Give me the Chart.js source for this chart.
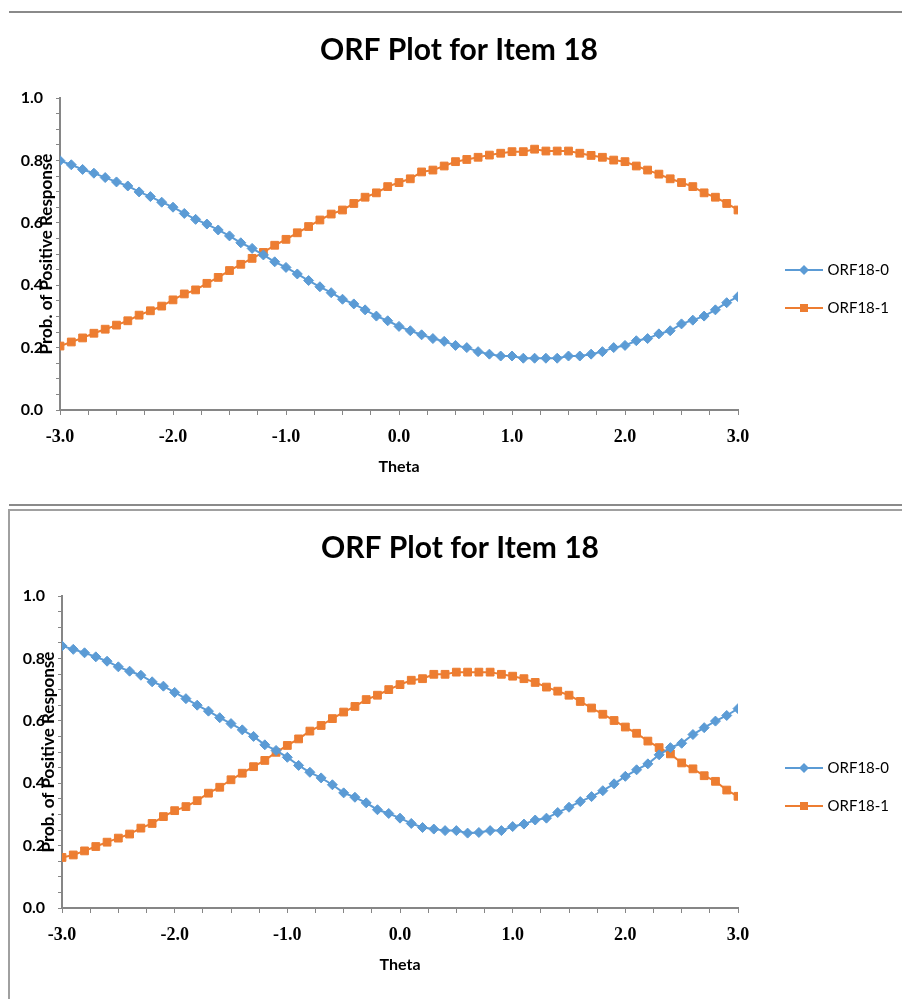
<!DOCTYPE html>
<html>
<head>
<meta charset="utf-8">
<title>ORF Plot for Item 18</title>
<script src="https://cdn.jsdelivr.net/npm/chart.js@4.4.0/dist/chart.umd.min.js"></script>
<style>
  body { margin: 0; background: #fff; width: 902px; height: 999px; overflow: hidden; position: relative; }
  canvas { position: absolute; }
  .rule { position: absolute; background: #8a8a8a; }
</style>
</head>
<body>
<div class="rule" style="left:9px; top:11px; width:893px; height:2px;"></div>
<div class="rule" style="left:9px; top:504px; width:893px; height:2px;"></div>
<div class="rule" style="left:9px; top:509px; width:893px; height:2px; background:#a0a0a0;"></div>
<div class="rule" style="left:8px; top:509px; width:2px; height:490px; background:#a0a0a0;"></div>
<canvas id="chartTop" width="886" height="482" style="left:16px; top:14px;"></canvas>
<canvas id="chartBottom" width="884" height="482" style="left:18px; top:512px;"></canvas>
<script>
// theta values (x categories)
const thetas = [
  -3.0, -2.9, -2.8, -2.7, -2.6, -2.5, -2.4, -2.3, -2.2, -2.1,
  -2.0, -1.9, -1.8, -1.7, -1.6, -1.5, -1.4, -1.3, -1.2, -1.1,
  -1.0, -0.9, -0.8, -0.7, -0.6, -0.5, -0.4, -0.3, -0.2, -0.1,
  0.0, 0.1, 0.2, 0.3, 0.4, 0.5, 0.6, 0.7, 0.8, 0.9,
  1.0, 1.1, 1.2, 1.3, 1.4, 1.5, 1.6, 1.7, 1.8, 1.9,
  2.0, 2.1, 2.2, 2.3, 2.4, 2.5, 2.6, 2.7, 2.8, 2.9,
  3.0
];

// upper chart
const orf0Top = [
  0.799, 0.786, 0.771, 0.759, 0.745, 0.731, 0.718, 0.699, 0.684, 0.666,
  0.650, 0.630, 0.611, 0.596, 0.577, 0.558, 0.536, 0.518, 0.497, 0.475,
  0.457, 0.436, 0.415, 0.395, 0.376, 0.355, 0.340, 0.321, 0.301, 0.286,
  0.268, 0.254, 0.241, 0.229, 0.220, 0.207, 0.200, 0.187, 0.179, 0.173,
  0.173, 0.166, 0.166, 0.166, 0.166, 0.173, 0.173, 0.179, 0.187, 0.200,
  0.207, 0.222, 0.229, 0.244, 0.254, 0.276, 0.288, 0.301, 0.321, 0.344,
  0.363
];
const orf1Top = [
  0.205, 0.218, 0.231, 0.246, 0.259, 0.272, 0.286, 0.304, 0.318, 0.333,
  0.353, 0.372, 0.385, 0.406, 0.425, 0.447, 0.467, 0.486, 0.505, 0.528,
  0.547, 0.568, 0.588, 0.609, 0.628, 0.641, 0.662, 0.682, 0.696, 0.716,
  0.729, 0.741, 0.763, 0.769, 0.782, 0.796, 0.803, 0.810, 0.817, 0.823,
  0.828, 0.828, 0.836, 0.830, 0.830, 0.830, 0.823, 0.816, 0.810, 0.801,
  0.796, 0.782, 0.769, 0.756, 0.741, 0.729, 0.716, 0.696, 0.682, 0.662,
  0.641
];

// lower chart
const orf0Bottom = [
  0.840, 0.829, 0.818, 0.805, 0.791, 0.773, 0.759, 0.746, 0.725, 0.711,
  0.691, 0.671, 0.650, 0.631, 0.610, 0.591, 0.571, 0.550, 0.523, 0.505,
  0.483, 0.457, 0.435, 0.417, 0.395, 0.369, 0.355, 0.337, 0.315, 0.303,
  0.288, 0.271, 0.258, 0.253, 0.248, 0.248, 0.240, 0.242, 0.248, 0.248,
  0.261, 0.269, 0.282, 0.288, 0.306, 0.323, 0.341, 0.357, 0.376, 0.398,
  0.422, 0.443, 0.462, 0.491, 0.514, 0.528, 0.556, 0.578, 0.599, 0.617,
  0.639
];
const orf1Bottom = [
  0.162, 0.170, 0.183, 0.197, 0.211, 0.224, 0.237, 0.256, 0.271, 0.293,
  0.312, 0.325, 0.344, 0.368, 0.387, 0.411, 0.432, 0.453, 0.473, 0.499,
  0.521, 0.542, 0.567, 0.585, 0.607, 0.628, 0.646, 0.668, 0.682, 0.700,
  0.716, 0.730, 0.735, 0.749, 0.749, 0.756, 0.756, 0.756, 0.756, 0.749,
  0.743, 0.735, 0.723, 0.708, 0.695, 0.682, 0.662, 0.641, 0.621, 0.601,
  0.580, 0.560, 0.535, 0.514, 0.494, 0.465, 0.446, 0.424, 0.406, 0.378,
  0.358
];

const seriesNames = ["ORF18-0", "ORF18-1"];
const chartTitle = "ORF Plot for Item 18";
const xTitle = "Theta";
const yTitle = "Prob. of Positive Response";

const BLUE = "#5b9bd5";
const ORANGE = "#ed7d31";
const AXIS = "#868686";

Chart.defaults.font.family = "Lato, 'Open Sans', sans-serif";
Chart.defaults.color = "#000";

// little "line with marker" pictures for the legend, like Excel
function legendMarker(color, shape) {
  const c = document.createElement("canvas");
  c.width = 38;
  c.height = 12;
  const g = c.getContext("2d");
  g.strokeStyle = color;
  g.fillStyle = color;
  g.lineWidth = 2;
  g.beginPath();
  g.moveTo(0, 6);
  g.lineTo(38, 6);
  g.stroke();
  g.beginPath();
  if (shape === "diamond") {
    g.moveTo(19, 1);
    g.lineTo(24, 6);
    g.lineTo(19, 11);
    g.lineTo(14, 6);
  } else {
    g.rect(15, 2, 8, 8);
  }
  g.closePath();
  g.fill();
  return c;
}
const markers = [legendMarker(BLUE, "diamond"), legendMarker(ORANGE, "square")];

// excel-ish layout tweaks: fixed legend box, rotated y title over the tick labels
const excelLook = {
  id: "excelLook",
  beforeLayout(chart) {
    const lg = chart.legend;
    if (lg && !lg._fixedWidth) {
      const fit = lg.fit;
      lg.fit = function () {
        fit.call(this);
        this.width = 164;
      };
      lg._fixedWidth = true;
    }
  },
  afterLayout(chart) {
    chart.legend.left += 27;
    chart.legend.top = 68;
  },
  afterDraw(chart) {
    const { ctx, chartArea } = chart;
    ctx.save();
    ctx.translate(chartArea.left - 13, (chartArea.top + chartArea.bottom) / 2);
    ctx.rotate(-Math.PI / 2);
    ctx.font = "bold 17px Lato";
    ctx.fillStyle = "#000";
    ctx.textAlign = "center";
    ctx.textBaseline = "middle";
    ctx.fillText(yTitle, 0, 0);
    ctx.restore();
  }
};

function points(values) {
  return thetas.map((t, i) => ({ x: t, y: values[i] }));
}

function makeChart(id, s0, s1) {
  return new Chart(document.getElementById(id), {
    type: "line",
    data: {
      datasets: [
        {
          label: seriesNames[0],
          data: points(s0),
          borderColor: BLUE,
          backgroundColor: BLUE,
          borderWidth: 2,
          pointStyle: "rectRot",
          pointRadius: 5,
          pointBorderWidth: 1,
          tension: 0
        },
        {
          label: seriesNames[1],
          data: points(s1),
          borderColor: ORANGE,
          backgroundColor: ORANGE,
          borderWidth: 2,
          pointStyle: "rect",
          pointRadius: 5.5,
          pointBorderWidth: 1,
          tension: 0
        }
      ]
    },
    options: {
      responsive: false,
      animation: false,
      devicePixelRatio: 1,
      layout: { padding: 0 },
      plugins: {
        title: {
          display: true,
          text: chartTitle,
          color: "#000",
          font: { size: 30, weight: "bold" },
          padding: { top: 18, bottom: 30 }
        },
        legend: {
          position: "right",
          labels: {
            usePointStyle: true,
            pointStyleWidth: 32,
            padding: 23,
            color: "#000",
            font: { size: 15 },
            generateLabels(chart) {
              const items = Chart.defaults.plugins.legend.labels.generateLabels(chart);
              items.forEach((it, i) => { it.pointStyle = markers[i]; });
              return items;
            }
          }
        },
        tooltip: { enabled: false }
      },
      scales: {
        x: {
          type: "linear",
          min: -3,
          max: 3,
          afterFit(scale) { scale.height = 86; },
          ticks: {
            stepSize: 0.25,
            autoSkip: false,
            maxRotation: 0,
            padding: 12,
            color: "#000",
            font: { family: "'Liberation Serif', serif", size: 18, weight: "bold" },
            callback(v) {
              if (Math.abs(v - Math.round(v)) > 1e-6) return "";
              const r = Math.round(v);
              return (r === 0 ? 0 : r).toFixed(1);
            }
          },
          grid: { drawOnChartArea: false, drawTicks: true, tickLength: 5, color: AXIS },
          border: { display: true, color: AXIS, width: 2 },
          title: {
            display: true,
            text: xTitle,
            color: "#000",
            font: { size: 16, weight: "bold" },
            padding: { top: 0, bottom: 20 }
          }
        },
        y: {
          min: 0,
          max: 1,
          afterFit(scale) { scale.width = 44; },
          ticks: {
            stepSize: 0.05,
            autoSkip: false,
            padding: 13,
            color: "#000",
            font: { size: 16, weight: "bold" },
            callback(v) {
              const k = Math.round(v * 100);
              return k % 20 === 0 ? (k / 100).toFixed(1) : "";
            }
          },
          grid: { drawOnChartArea: false, drawTicks: true, tickLength: 4, color: AXIS },
          border: { display: true, color: AXIS, width: 2 }
        }
      }
    },
    plugins: [excelLook]
  });
}

makeChart("chartTop", orf0Top, orf1Top);
makeChart("chartBottom", orf0Bottom, orf1Bottom);
</script>
</body>
</html>
